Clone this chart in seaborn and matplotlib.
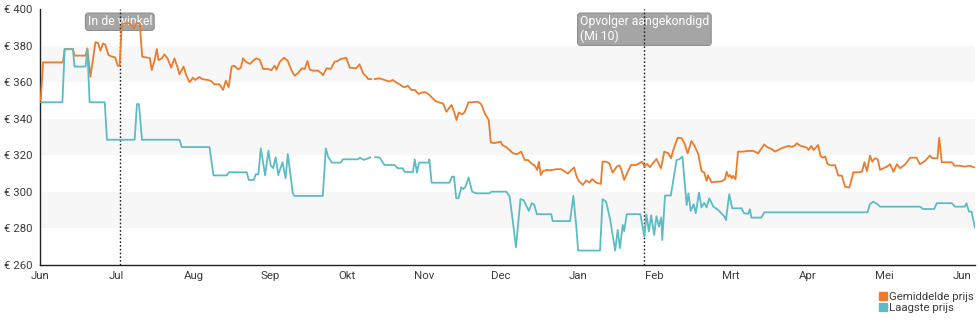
import numpy as np
import pandas as pd
import matplotlib
matplotlib.use("Agg")
import matplotlib.pyplot as plt
import matplotlib.dates as mdates
from matplotlib.lines import Line2D
import seaborn as sns

# ---- data -------------------------------------------------------------
start = pd.Timestamp("2019-06-01")

# days after start / price in euro (NaN = no data)
avg_day = [0.3, 1.2, 9.1, 9.8, 13.1, 13.7, 18.1, 18.8, 20.0, 21.0, 22.0, 23.0, 24.0, 25.0, 25.9,
           27.2, 28.5, 29.8, 30.9, 31.6, 32.5, 33.8, 35.6, 37.3, 38.2, 39.6, 40.6, 42.2, 43.6,
           44.4, 45.5, 46.4, 47.0, 48.4, 49.4, 50.7, 52.1, 53.4, 54.5, 55.4, 57.0, 58.0, 59.4,
           60.7, 61.6, 63.3, 64.6, 66.6, 67.9, 69.3, 71.3, 72.7, 73.8, 74.9, 76.1, 77.1, 78.7,
           79.8, 80.6, 81.9, 83.3, 84.6, 85.9, 87.3, 88.6, 90.6, 91.9, 93.2, 93.9, 95.2, 96.9,
           98.4, 99.8, 101.1, 102.4, 104.0, 105.1, 106.2, 107.1, 108.4, 110.4, 111.8, 112.4,
           113.8, 115.5, 117.0, 118.3, 119.4, 120.7, 121.6, 123.0, 125.6, 126.9, 128.3, 129.6,
           130.3, 131.6, 132.2, 132.9, 134.8, 136.8, 138.8, 140.1, 141.5, 142.8, 144.1, 144.8,
           146.1, 147.5, 148.9, 150.3, 151.5, 153.1, 154.4, 155.7, 157.0, 158.7, 160.1, 161.4,
           162.3, 163.4, 164.5, 165.4, 166.3, 167.6, 168.6, 170.2, 171.9, 173.9, 175.3, 176.6,
           178.2, 179.0, 180.4, 181.7, 183.0, 183.6, 185.2, 186.5, 187.8, 189.5, 191.1, 192.5,
           193.8, 195.1, 196.5, 197.5, 198.1, 198.9, 199.8, 201.1, 203.1, 205.0, 207.0, 208.6,
           209.7, 211.0, 212.1, 212.9, 213.7, 214.2, 215.6, 216.9, 218.2, 219.3, 220.8, 221.8,
           222.7, 223.4, 224.8, 226.1, 227.4, 229.0, 230.1, 230.9, 232.0, 233.4, 234.7, 236.7,
           238.0, 239.1, 240.0, 241.1, 242.2, 243.5, 244.8, 246.6, 247.9, 249.5, 250.6, 251.5,
           253.2, 254.8, 255.9, 257.2, 258.7, 260.1, 261.4, 262.7, 263.8, 264.7, 265.3, 266.7,
           268.7, 270.7, 272.0, 272.7, 273.4, 274.1, 274.7, 275.3, 276.2, 277.2, 279.2, 281.2,
           283.2, 285.2, 286.5, 287.6, 288.5, 290.5, 291.9, 293.8, 295.1, 296.4, 297.2, 298.6,
           299.9, 300.5, 301.8, 303.2, 304.5, 305.2, 306.3, 307.2, 309.0, 309.9, 310.8, 311.8,
           312.8, 314.4, 315.7, 317.0, 318.4, 319.7, 321.3, 321.7, 323.0, 325.0, 326.4, 327.4,
           328.4, 329.6, 330.5, 331.6, 332.7, 333.6, 334.9, 336.3, 337.6, 338.9, 340.3, 341.6,
           343.6, 345.6, 348.1, 349.4, 351.4, 353.4, 354.3, 356.4, 357.1, 358.1, 360.1, 362.1,
           363.1, 365.3, 367.3, 369.3, 371.0]
avg_price = [350.2, 370.8, 370.8, 378.1, 378.1, 374.5, 374.5, 378.5, 363.0, 372.1, 381.8, 381.5,
             377.2, 381.2, 380.5, 374.8, 374.0, 373.6, 369.0, 368.8, 391.6, 392.2, 392.2, 389.4,
             392.2, 392.2, 373.9, 373.5, 373.2, 366.6, 372.1, 378.1, 372.1, 373.0, 375.2, 372.8,
             367.9, 373.0, 368.5, 364.3, 368.5, 364.0, 359.9, 362.4, 361.2, 362.8, 361.6, 361.2,
             360.7, 358.8, 358.8, 355.7, 360.8, 357.2, 368.5, 369.0, 367.0, 368.0, 373.0, 371.0,
             370.0, 371.6, 373.0, 372.2, 367.2, 367.2, 366.6, 369.0, 366.8, 371.0, 373.4, 371.6,
             366.6, 363.5, 364.8, 367.6, 367.2, 371.6, 366.8, 366.3, 366.3, 364.8, 363.8, 367.6,
             367.2, 371.2, 371.6, 372.7, 373.0, 373.4, 367.9, 367.6, 369.8, 364.8, 363.0, 361.7,
             361.7, np.nan, 361.7, 362.1, 361.2, 360.3, 361.2, 359.8, 358.8, 357.5, 357.2, 358.0,
             355.7, 355.7, 353.5, 354.3, 354.5, 353.3, 351.5, 349.7, 348.8, 348.3, 343.8, 345.5,
             347.5, 343.5, 339.3, 343.5, 342.3, 343.5, 349.0, 349.0, 349.3, 347.8, 343.0, 339.3,
             327.1, 326.6, 327.1, 327.4, 325.6, 324.4, 322.8, 321.1, 320.6, 322.0, 317.4, 317.4,
             315.6, 314.3, 311.9, 316.5, 309.2, 311.4, 311.9, 311.9, 312.4, 312.4, 310.9, 310.0,
             312.0, 313.3, 309.2, 306.5, 305.6, 303.8, 306.2, 305.1, 307.0, 305.1, 304.7, 304.3,
             316.5, 316.5, 315.6, 310.5, 313.8, 314.5, 312.0, 306.5, 311.0, 314.7, 314.7, 315.6,
             316.5, 313.8, 315.2, 313.5, 315.8, 318.0, 312.9, 322.0, 321.1, 318.4, 322.9, 329.6,
             329.3, 326.6, 321.1, 327.8, 324.7, 320.6, 311.4, 310.5, 306.0, 309.0, 305.2, 305.5,
             305.8, 306.9, 311.0, 308.3, 309.2, 307.4, 308.8, 306.9, 322.0, 322.0, 322.4, 322.4,
             321.1, 323.8, 326.0, 324.7, 323.4, 322.0, 323.4, 324.2, 324.7, 325.1, 324.6, 325.5,
             326.6, 325.3, 324.7, 324.2, 322.9, 325.1, 322.9, 325.6, 319.8, 318.7, 319.3, 315.1,
             314.4, 314.7, 308.9, 308.9, 302.8, 302.3, 303.8, 310.7, 310.7, 311.0, 316.2, 311.4,
             319.8, 316.5, 318.4, 317.8, 312.0, 312.9, 313.8, 315.1, 311.0, 315.1, 312.9, 315.1,
             318.7, 318.7, 315.1, 316.9, 319.8, 318.4, 318.4, 329.6, 316.2, 316.2, 316.2, 314.3,
             314.3, 313.8, 314.3, 313.3]

low_day = [0.3, 8.9, 9.8, 13.1, 13.7, 18.1, 18.8, 19.7, 25.7, 26.6, 37.6, 38.5, 39.3, 40.5,
           55.4, 56.3, 67.3, 68.9, 74.2, 75.0, 82.1, 82.9, 84.9, 85.7, 86.7, 87.7, 89.4, 90.7,
           91.6, 92.6, 93.6, 94.6, 96.3, 97.5, 98.4, 100.4, 101.1, 112.3, 113.5, 114.4, 115.9,
           119.4, 120.3, 126.3, 127.0, 128.5, 130.1, 131.2, 132.0, 132.9, 134.8, 136.8, 140.8,
           142.1, 144.0, 144.8, 148.1, 148.8, 149.7, 150.5, 154.4, 154.6, 155.5, 162.6, 163.6,
           164.4, 165.3, 166.2, 167.3, 168.2, 169.0, 170.2, 171.6, 173.2, 178.5, 179.2, 185.2,
           186.5, 187.7, 189.0, 190.8, 192.0, 193.0, 194.1, 195.3, 196.3, 197.3, 203.0, 203.6,
           210.5, 211.8, 212.9, 213.7, 222.4, 223.4, 224.8, 226.4, 228.4, 229.4, 230.3, 231.4,
           232.0, 233.0, 238.4, 240.0, 240.8, 241.8, 242.7, 243.9, 244.8, 245.8, 246.7, 247.1,
           248.2, 250.5, 252.8, 254.1, 255.1, 256.8, 257.5, 258.4, 259.6, 260.4, 261.7, 262.7,
           263.8, 264.7, 265.8, 267.4, 269.4, 271.8, 272.4, 273.7, 274.9, 278.6, 279.6, 281.2,
           281.9, 282.5, 286.5, 287.6, 328.6, 329.6, 330.9, 332.4, 333.6, 349.4, 350.7, 355.1,
           356.1, 362.1, 363.4, 367.3, 367.9, 368.9, 369.9, 371.3]
low_price = [349.0, 349.0, 378.0, 378.0, 368.5, 368.5, 378.0, 349.0, 349.0, 328.5, 328.5, 348.0,
             348.0, 328.5, 328.5, 324.5, 324.5, 309.0, 309.0, 310.7, 310.7, 306.5, 306.5, 309.6,
             309.6, 323.8, 309.0, 322.5, 314.5, 313.0, 318.9, 309.2, 316.2, 307.4, 320.7, 299.2,
             297.8, 297.8, 323.8, 319.3, 316.0, 316.0, 317.8, 317.8, 318.7, 317.5, 318.2, 318.9,
             np.nan, 318.9, 318.9, 314.7, 314.7, 312.9, 312.9, 311.0, 310.8, 317.8, 310.5, 316.0,
             316.0, 317.8, 305.0, 305.0, 308.3, 308.3, 296.5, 296.5, 302.5, 301.5, 303.0, 307.9,
             300.1, 299.2, 299.2, 300.1, 300.1, 297.4, 284.6, 269.7, 296.0, 295.5, 292.8, 289.6,
             293.8, 292.8, 287.8, 287.8, 284.0, 284.0, 297.8, 282.0, 267.9, 267.9, 296.0, 294.6,
             285.0, 267.9, 279.2, 269.2, 281.9, 278.5, 287.8, 287.8, 275.5, 287.8, 278.3, 287.2,
             276.4, 286.7, 281.0, 286.0, 273.7, 298.0, 298.0, 317.4, 318.0, 319.3, 292.8, 299.2,
             289.6, 293.2, 288.3, 299.6, 291.5, 294.0, 291.5, 296.5, 291.9, 290.0, 286.5, 284.6,
             298.7, 291.0, 291.0, 288.3, 288.0, 290.5, 285.9, 285.9, 288.8, 288.8, 293.4, 294.6,
             293.4, 291.9, 291.9, 290.6, 290.6, 293.8, 293.8, 291.9, 291.9, 293.8, 289.2, 289.2,
             280.4]

series_names = ["Gemiddelde prijs", "Laagste prijs"]
series_colors = ["#ec7b2b", "#5cbcc6"]

month_labels = ["Jun", "Jul", "Aug", "Sep", "Okt", "Nov", "Dec",
                "Jan", "Feb", "Mrt", "Apr", "Mei", "Jun"]
price_ticks = [260, 280, 300, 320, 340, 360, 380, 400]
band_ranges = [(280, 300), (320, 340), (360, 380)]

event_labels = ["In de winkel", "Opvolger aangekondigd\n(Mi 10)"]
event_days = [31.7, 240.0]


def to_frame(days, prices, name):
    df = pd.DataFrame({"day": days, "price": prices})
    df["seg"] = df["price"].isna().cumsum()
    df = df.dropna().copy()
    df["date"] = start + pd.to_timedelta(df["day"], unit="D")
    df["series"] = name
    return df


data = pd.concat([to_frame(avg_day, avg_price, series_names[0]),
                  to_frame(low_day, low_price, series_names[1])], ignore_index=True)

# ---- figure -----------------------------------------------------------
sns.set_theme(style="white")
plt.rcParams["font.family"] = ["Roboto", "DejaVu Sans"]
text_color = "#3c3c3c"

fig = plt.figure(figsize=(9.8, 3.25), dpi=100)
ax = fig.add_axes([40 / 980, 60 / 325, 935 / 980, 256 / 325])

for lo, hi in band_ranges:
    ax.axhspan(lo, hi, color="#f7f7f7", lw=0, zorder=0)

sns.lineplot(data=data, x="date", y="price", hue="series", units="seg",
             estimator=None, sort=False, palette=dict(zip(series_names, series_colors)),
             linewidth=1.3, legend=False, ax=ax, zorder=4)

x0 = mdates.date2num(start)
x_end = mdates.date2num(start + pd.Timedelta(days=371.3))
ax.set_xlim(x0, x_end)
ax.set_ylim(260, 400)

# month ticks evenly spread over the year
tick_pos = [x0 + k * 30.5 for k in range(len(month_labels))]
ax.set_xticks(tick_pos)
ax.set_xticklabels(month_labels)
ax.xaxis.set_minor_locator(mdates.DayLocator())
ax.set_yticks(price_ticks)
ax.set_yticklabels([f"€ {v}" for v in price_ticks])

ax.set_xlabel("")
ax.set_ylabel("")
for side in ("top", "right"):
    ax.spines[side].set_visible(False)
for side in ("left", "bottom"):
    ax.spines[side].set_color("#222222")
    ax.spines[side].set_linewidth(1.0)

ax.tick_params(axis="both", which="major", direction="out", length=4.5, width=1,
               color="#222222", labelcolor=text_color, labelsize=8.2)
ax.tick_params(axis="y", which="major", pad=0.8)
ax.tick_params(axis="x", which="minor", direction="out", length=1.5, width=0.6,
               color="#555555")
ax.tick_params(axis="x", which="major", pad=0)
ax.grid(False)

# event markers
for label, day in zip(event_labels, event_days):
    xd = x0 + day
    ax.axvline(xd, color="#222222", lw=1.0, ls=(0, (1.2, 1.5)), zorder=3)
    ax.annotate(label, xy=(xd, 1.0), xycoords=("data", "axes fraction"),
                xytext=(0, -4.5), textcoords="offset points",
                ha="center", va="top", multialignment="left",
                color="white", fontsize=8.8, zorder=2, linespacing=1.15,
                bbox=dict(boxstyle="round,pad=0.18,rounding_size=0.25",
                          fc="#a5a5a5", ec="#8f8f8f", lw=0.8))

handles = [Line2D([], [], ls="none", marker="s", markersize=5.5,
                  markerfacecolor=c, markeredgecolor=c) for c in series_colors]
fig.legend(handles, series_names, loc="upper right", bbox_to_anchor=(0.994, 0.103),
           frameon=False, fontsize=8.2, labelcolor=text_color, handlelength=0.6,
           handletextpad=0.25, labelspacing=0.1, borderpad=0, borderaxespad=0)

fig.savefig("out.png", dpi=100)
